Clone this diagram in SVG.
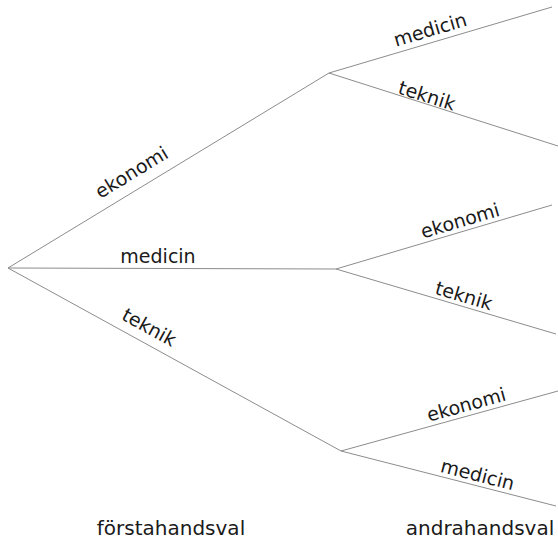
<svg xmlns="http://www.w3.org/2000/svg" width="558" height="542" viewBox="0 0 558 542">
<style>
.edge{stroke:#8c8c8c;stroke-width:1;fill:none}
.lbl{font-family:"DejaVu Sans","Liberation Sans",sans-serif;font-size:19px;fill:#1a1a1a;text-anchor:middle}
.ax{font-family:"DejaVu Sans","Liberation Sans",sans-serif;font-size:20px;fill:#1a1a1a;text-anchor:middle}
</style>
<rect width="558" height="542" fill="#ffffff"/>
<g id="connectors">
<line class="edge" x1="8" y1="268" x2="329" y2="73"/>
<line class="edge" x1="8" y1="268" x2="336" y2="269"/>
<line class="edge" x1="8" y1="268" x2="341" y2="451"/>
<line class="edge" x1="329" y1="73" x2="552" y2="7"/>
<line class="edge" x1="329" y1="73" x2="558" y2="146"/>
<line class="edge" x1="336" y1="269" x2="552" y2="205"/>
<line class="edge" x1="336" y1="269" x2="556" y2="334"/>
<line class="edge" x1="341" y1="451" x2="558" y2="391"/>
<line class="edge" x1="341" y1="451" x2="556" y2="506"/>
</g>
<g id="edge-labels">
<text class="lbl" transform="translate(135,178) rotate(-31.3)">ekonomi</text>
<text class="lbl" transform="translate(158,263)">medicin</text>
<text class="lbl" transform="translate(146,333) rotate(28.8)">teknik</text>
<text class="lbl" transform="translate(432,36) rotate(-16.5)">medicin</text>
<text class="lbl" transform="translate(425,102) rotate(17.5)">teknik</text>
<text class="lbl" transform="translate(462,227) rotate(-16.5)">ekonomi</text>
<text class="lbl" transform="translate(462,302) rotate(16.5)">teknik</text>
<text class="lbl" transform="translate(468,411) rotate(-15.5)">ekonomi</text>
<text class="lbl" transform="translate(476,481) rotate(14.3)">medicin</text>
</g>
<g id="axis-labels">
<text class="ax" x="171" y="535">förstahandsval</text>
<text class="ax" x="480" y="535">andrahandsval</text>
</g>
</svg>
